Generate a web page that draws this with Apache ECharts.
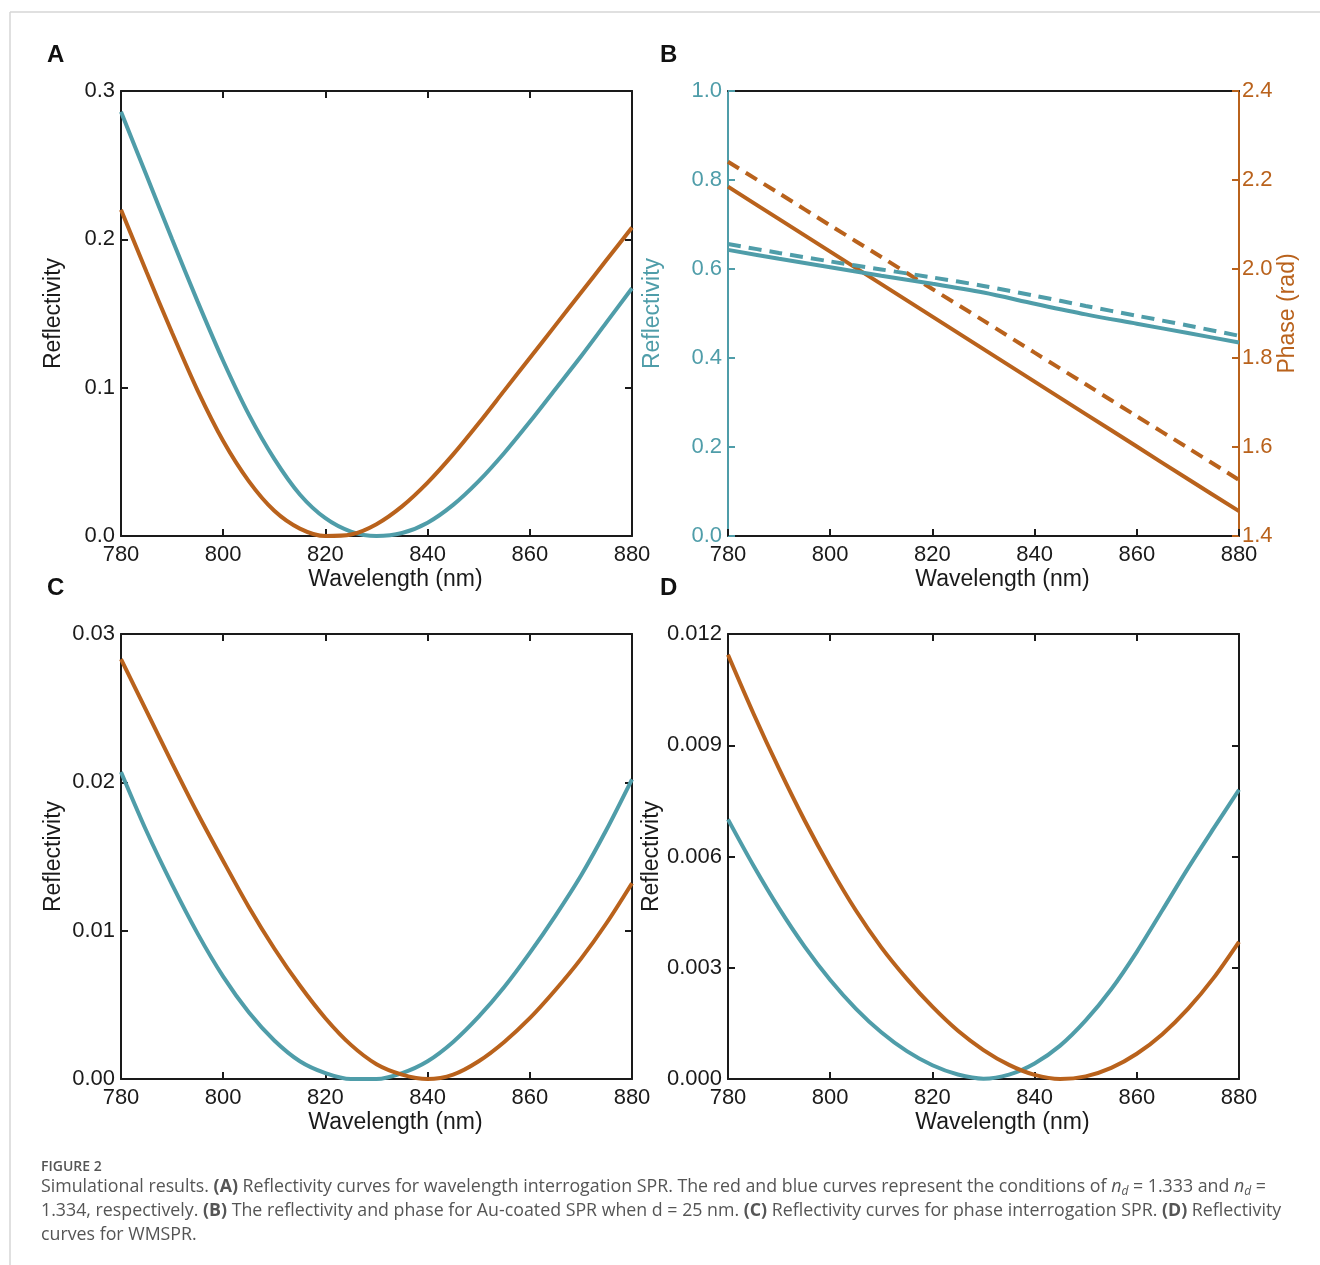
<!DOCTYPE html>
<html>
<head>
<meta charset="utf-8">
<script src="https://cdn.jsdelivr.net/npm/echarts@6/dist/echarts.min.js"></script>
<style>
  html, body { margin: 0; padding: 0; background: #fff; }
  #chart { width: 1320px; height: 1265px; }
</style>
</head>
<body>
<div id="chart"></div>
<script>
// wavelength grid (nm)
const wavelengths = [780, 785, 790, 795, 800, 805, 810, 815, 820, 825, 830, 835, 840, 845, 850, 855, 860, 865, 870, 875, 880];
const wavelengthsB = [780, 790, 800, 810, 820, 830, 840, 850, 860, 870, 880];

// panel A : wavelength interrogation
const reflA_teal = [0.286, 0.243, 0.200, 0.158, 0.118, 0.082, 0.052, 0.028, 0.012, 0.003, 0.000, 0.002, 0.009, 0.021, 0.037, 0.056, 0.077, 0.099, 0.121, 0.144, 0.167];
const reflA_orange = [0.220, 0.178, 0.137, 0.098, 0.064, 0.037, 0.017, 0.005, 0.000, 0.001, 0.008, 0.020, 0.036, 0.055, 0.076, 0.098, 0.120, 0.142, 0.164, 0.186, 0.208];

// panel B : reflectivity (left) and phase (right), solid / dashed
const reflB_solid = [0.643, 0.623, 0.604, 0.585, 0.567, 0.547, 0.522, 0.498, 0.477, 0.456, 0.435];
const reflB_dash = [0.656, 0.636, 0.617, 0.599, 0.581, 0.562, 0.540, 0.517, 0.495, 0.473, 0.450];
const phaseB_solid = [2.185, 2.112, 2.039, 1.966, 1.893, 1.820, 1.747, 1.674, 1.601, 1.528, 1.456];
const phaseB_dash = [2.241, 2.170, 2.098, 2.027, 1.955, 1.884, 1.812, 1.741, 1.669, 1.598, 1.526];

// panel C : phase interrogation
const reflC_teal = [0.0207, 0.0167, 0.0131, 0.0098, 0.0069, 0.0045, 0.0026, 0.0012, 0.0004, 0.0000, 0.0000, 0.0004, 0.0012, 0.0025, 0.0042, 0.0062, 0.0085, 0.0110, 0.0137, 0.0168, 0.0202];
const reflC_orange = [0.0283, 0.0248, 0.0213, 0.0179, 0.0147, 0.0116, 0.0088, 0.0063, 0.0041, 0.0023, 0.0010, 0.0003, 0.0000, 0.0003, 0.0012, 0.0025, 0.0041, 0.0060, 0.0081, 0.0105, 0.0132];

// panel D : WMSPR
const reflD_teal = [0.00700, 0.00575, 0.00460, 0.00357, 0.00267, 0.00190, 0.00126, 0.00075, 0.00037, 0.00012, 0.00001, 0.00012, 0.00042, 0.00090, 0.00158, 0.00242, 0.00343, 0.00455, 0.00568, 0.00675, 0.00780];
const reflD_orange = [0.01144, 0.00985, 0.00836, 0.00697, 0.00570, 0.00455, 0.00355, 0.00270, 0.00195, 0.00130, 0.00078, 0.00038, 0.00011, 0.00000, 0.00007, 0.00030, 0.00068, 0.00121, 0.00189, 0.00272, 0.00370];

const TEAL = '#4f9da9';
const ORANGE = '#b9621c';
const INK = '#1a1a1a';
const FONT = 'Liberation Sans';

function pairs(xs, ys) {
  return xs.map((x, i) => [x, ys[i]]);
}

const grids = [
  { left: 121, top: 91, width: 511, height: 445 },  // A
  { left: 728, top: 91, width: 511, height: 445 },  // B
  { left: 121, top: 634, width: 511, height: 445 }, // C
  { left: 728, top: 634, width: 511, height: 445 }  // D
];

const xAxes = [];
const yAxes = [];

function frameLine(color) {
  return { show: true, onZero: false, lineStyle: { color: color, width: 2 } };
}
function tickIn(color, show) {
  return { show: show !== false, inside: true, length: 7, lineStyle: { color: color, width: 2 } };
}

// bottom + top x axes for each grid
grids.forEach((g, i) => {
  xAxes.push({
    gridIndex: i, type: 'value', position: 'bottom',
    min: 780, max: 880, interval: 20,
    axisLine: frameLine(INK), axisTick: tickIn(INK),
    splitLine: { show: false },
    axisLabel: { color: INK, fontSize: 22, fontFamily: FONT, margin: 8 },
    name: 'Wavelength (nm)', nameLocation: 'middle', nameGap: 32,
    nameTextStyle: { color: INK, fontSize: 23, fontFamily: FONT, padding: [0, 0, 0, 38] }
  });
  xAxes.push({
    gridIndex: i, type: 'value', position: 'top',
    min: 780, max: 880, interval: 20,
    axisLine: frameLine(INK), axisTick: tickIn(INK, i !== 1),
    splitLine: { show: false }, axisLabel: { show: false }
  });
});

function yPair(gridIndex, max, interval, digits, nameGap) {
  yAxes.push({
    gridIndex: gridIndex, type: 'value', position: 'left',
    min: 0, max: max, interval: interval,
    axisLine: frameLine(INK), axisTick: tickIn(INK),
    splitLine: { show: false },
    axisLabel: { color: INK, fontSize: 22, fontFamily: FONT, margin: 6, formatter: v => v.toFixed(digits) },
    name: 'Reflectivity', nameLocation: 'middle', nameGap: nameGap, nameRotate: 90,
    nameTextStyle: { color: INK, fontSize: 23, fontFamily: FONT }
  });
  yAxes.push({
    gridIndex: gridIndex, type: 'value', position: 'right',
    min: 0, max: max, interval: interval,
    axisLine: frameLine(INK), axisTick: tickIn(INK),
    splitLine: { show: false }, axisLabel: { show: false }
  });
}

// A: y 0 / 1
yPair(0, 0.3, 0.1, 1, 56);
// B: y 2 (reflectivity, teal) / 3 (phase, orange)
yAxes.push({
  gridIndex: 1, type: 'value', position: 'left',
  min: 0, max: 1, interval: 0.2,
  axisLine: frameLine(TEAL), axisTick: tickIn(TEAL),
  splitLine: { show: false },
  axisLabel: { color: TEAL, fontSize: 22, fontFamily: FONT, margin: 6, formatter: v => v.toFixed(1) },
  name: 'Reflectivity', nameLocation: 'middle', nameGap: 64, nameRotate: 90,
  nameTextStyle: { color: TEAL, fontSize: 23, fontFamily: FONT }
});
yAxes.push({
  gridIndex: 1, type: 'value', position: 'right',
  min: 1.4, max: 2.4, interval: 0.2,
  axisLine: frameLine(ORANGE), axisTick: tickIn(ORANGE),
  splitLine: { show: false },
  axisLabel: { color: ORANGE, fontSize: 22, fontFamily: FONT, margin: 3, formatter: v => v.toFixed(1) },
  name: 'Phase (rad)', nameLocation: 'middle', nameGap: 36, nameRotate: 90,
  nameTextStyle: { color: ORANGE, fontSize: 23, fontFamily: FONT }
});
// C: y 4 / 5
yPair(2, 0.03, 0.01, 2, 56);
// D: y 6 / 7
yPair(3, 0.012, 0.003, 3, 64);

function curve(xIdx, yIdx, xs, ys, color, dashed) {
  return {
    type: 'line', xAxisIndex: xIdx, yAxisIndex: yIdx,
    data: pairs(xs, ys), showSymbol: false, smooth: 0.3,
    lineStyle: { color: color, width: 4, type: dashed ? [13, 8] : 'solid' },
    z: 3
  };
}

const series = [
  curve(0, 0, wavelengths, reflA_teal, TEAL),
  curve(0, 0, wavelengths, reflA_orange, ORANGE),
  curve(2, 3, wavelengthsB, phaseB_dash, ORANGE, true),
  curve(2, 3, wavelengthsB, phaseB_solid, ORANGE),
  curve(2, 2, wavelengthsB, reflB_dash, TEAL, true),
  curve(2, 2, wavelengthsB, reflB_solid, TEAL),
  curve(4, 4, wavelengths, reflC_teal, TEAL),
  curve(4, 4, wavelengths, reflC_orange, ORANGE),
  curve(6, 6, wavelengths, reflD_teal, TEAL),
  curve(6, 6, wavelengths, reflD_orange, ORANGE)
];

function letter(txt, x, y) {
  return { type: 'text', x: x, y: y, style: { text: txt, font: 'bold 24px "Liberation Sans"', fill: '#111', verticalAlign: 'middle' } };
}

const capFont = '"Open Sans", "Noto Sans", sans-serif';
const CAP = 17.8;
const capRich = {
  b: { fontFamily: capFont, fontSize: CAP, fontWeight: 'bold', color: '#333' },
  i: { fontFamily: capFont, fontSize: CAP, fontStyle: 'italic', color: '#555' },
  s: { fontFamily: capFont, fontSize: 12, fontStyle: 'italic', color: '#555', verticalAlign: 'bottom', padding: [9, 0, 0, 0] }
};
function captionLine(txt, y) {
  return {
    type: 'text', x: 41, y: y,
    style: { text: txt, rich: capRich, font: CAP + 'px ' + capFont, fill: '#555', verticalAlign: 'middle' }
  };
}

const graphics = [
  { type: 'line', shape: { x1: 10, y1: 12, x2: 1320, y2: 12 }, style: { stroke: '#d6d6d6', lineWidth: 1.5 } },
  { type: 'line', shape: { x1: 10, y1: 12, x2: 10, y2: 1265 }, style: { stroke: '#d6d6d6', lineWidth: 1.5 } },
  letter('A', 47, 55),
  letter('B', 660, 55),
  letter('C', 47, 588),
  letter('D', 660, 588),
  { type: 'text', x: 41, y: 1167, style: { text: 'FIGURE 2', font: '600 14px ' + capFont, fill: '#555', verticalAlign: 'middle' } },
  captionLine('Simulational results. {b|(A)} Reflectivity curves for wavelength interrogation SPR. The red and blue curves represent the conditions of {i|n}{s|d} = 1.333 and {i|n}{s|d} =', 1187),
  captionLine('1.334, respectively. {b|(B)} The reflectivity and phase for Au-coated SPR when d = 25 nm. {b|(C)} Reflectivity curves for phase interrogation SPR. {b|(D)} Reflectivity', 1211),
  captionLine('curves for WMSPR.', 1235)
];

const chart = echarts.init(document.getElementById('chart'), null, { renderer: 'canvas' });
chart.setOption({
  animation: false,
  backgroundColor: '#ffffff',
  grid: grids,
  xAxis: xAxes,
  yAxis: yAxes,
  series: series,
  graphic: graphics
});
</script>
</body>
</html>
